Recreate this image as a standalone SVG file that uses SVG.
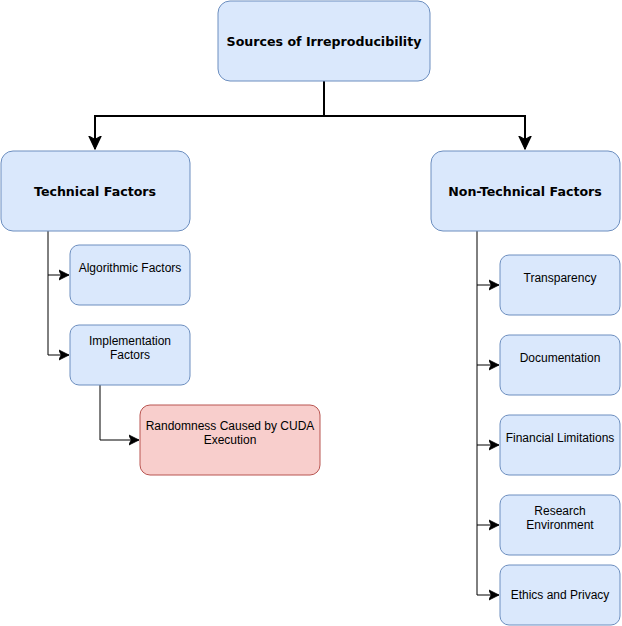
<svg xmlns="http://www.w3.org/2000/svg" width="622" height="626" viewBox="0 0 622 626">
<style>
.b{fill:#dae8fc;stroke:#6c8ebf;stroke-width:1}
.r{fill:#f8cecc;stroke:#b85450;stroke-width:1}
.h{font-family:"DejaVu Sans",sans-serif;font-weight:bold;font-size:12.6px;fill:#000;text-anchor:middle}
.t{font-family:"Liberation Sans",Arial,sans-serif;font-size:12px;fill:#000;text-anchor:middle}
.c{fill:none;stroke:#000;stroke-width:1}
.c2{fill:none;stroke:#000;stroke-width:2}
</style>
<defs>
<marker id="a" markerUnits="userSpaceOnUse" markerWidth="12" markerHeight="12" refX="7" refY="4" orient="auto" viewBox="0 0 8 8">
<path d="M0,0.5 L7,4 L0,7.5 L1.8,4 Z" fill="#000" stroke="#000" stroke-width="0.5"/>
</marker>
<marker id="A" markerUnits="userSpaceOnUse" markerWidth="14" markerHeight="14" refX="11" refY="6" orient="auto" viewBox="0 0 12 12">
<path d="M0,0.8 L11,6 L0,11.2 L2.8,6 Z" fill="#000" stroke="#000" stroke-width="1"/>
</marker>
</defs>
<g id="connectors">
<path class="c2" d="M324,81 V116 H95 V149" marker-end="url(#A)"/>
<path class="c2" d="M324,116 H525 V149" marker-end="url(#A)"/>
<path class="c" d="M48,231 V275 H69" marker-end="url(#a)"/>
<path class="c" d="M48,275 V355 H69" marker-end="url(#a)"/>
<path class="c" d="M100,385 V440 H139" marker-end="url(#a)"/>
<path class="c" d="M477,231 V285 H499" marker-end="url(#a)"/>
<path class="c" d="M477,285 V365 H499" marker-end="url(#a)"/>
<path class="c" d="M477,365 V445 H499" marker-end="url(#a)"/>
<path class="c" d="M477,445 V525 H499" marker-end="url(#a)"/>
<path class="c" d="M477,525 V595 H499" marker-end="url(#a)"/>
</g>
<g id="root"><rect class="b" x="218" y="1" width="212" height="80" rx="12"/><text class="h" x="324" y="46">Sources of Irreproducibility</text></g>
<g id="technical"><rect class="b" x="1" y="151" width="189" height="80" rx="12"/><text class="h" x="95" y="196">Technical Factors</text></g>
<g id="nontechnical"><rect class="b" x="431" y="151" width="189" height="80" rx="12"/><text class="h" x="525" y="196">Non-Technical Factors</text></g>
<g id="algorithmic"><rect class="b" x="70" y="245" width="120" height="60" rx="9"/><text class="t" x="130" y="272">Algorithmic Factors</text></g>
<g id="implementation"><rect class="b" x="70" y="325" width="120" height="60" rx="9"/><text class="t" x="130" y="345">Implementation</text><text class="t" x="130" y="359">Factors</text></g>
<g id="cuda"><rect class="r" x="140" y="405" width="180" height="70" rx="10"/><text class="t" x="230" y="430">Randomness Caused by CUDA</text><text class="t" x="230" y="444">Execution</text></g>
<g id="transparency"><rect class="b" x="500" y="255" width="120" height="60" rx="9"/><text class="t" x="560" y="282">Transparency</text></g>
<g id="documentation"><rect class="b" x="500" y="335" width="120" height="60" rx="9"/><text class="t" x="560" y="362">Documentation</text></g>
<g id="financial"><rect class="b" x="500" y="415" width="120" height="60" rx="9"/><text class="t" x="560" y="442">Financial Limitations</text></g>
<g id="research"><rect class="b" x="500" y="495" width="120" height="60" rx="9"/><text class="t" x="560" y="515">Research</text><text class="t" x="560" y="529">Environment</text></g>
<g id="ethics"><rect class="b" x="500" y="565" width="120" height="60" rx="9"/><text class="t" x="560" y="599">Ethics and Privacy</text></g>
</svg>
